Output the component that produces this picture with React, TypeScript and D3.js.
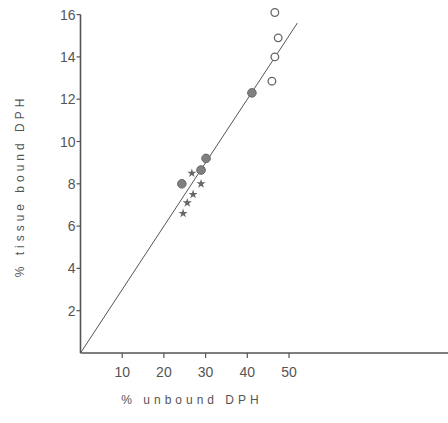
import React from "react";
import * as d3 from "d3";

const xTicks = [10, 20, 30, 40, 50];
const yTicks = [2, 4, 6, 8, 10, 12, 14, 16];

const openX = [46.6, 47.4, 46.6, 45.9];
const openY = [16.1, 14.9, 14.0, 12.85];
const filledX = [41.1, 30.1, 28.9, 24.3];
const filledY = [12.3, 9.2, 8.65, 8.0];
const starX = [26.7, 28.9, 27.0, 25.6, 24.6];
const starY = [8.5, 8.0, 7.5, 7.1, 6.6];
const lineX = [0, 52];
const slope = 0.3;

const W = 448;
const H = 423;
const FONT = "'Liberation Sans', Arial, Helvetica, sans-serif";
const INK = "#555";

export default function App() {
  const x = d3.scaleLinear().domain([0, 88]).range([80.5, 447.5]);
  const y = d3.scaleLinear().domain([0, 16]).range([353, 14.6]);
  const line = d3
    .line<number>()
    .x((d) => x(d))
    .y((d) => y(d * slope));
  const star = d3.symbol().type(d3.symbolStar).size(26)();
  return (
    <svg
      width={W}
      height={H}
      style={{ position: "absolute", left: 0, top: 0, background: "#fff", fontFamily: FONT }}
    >
      <line x1={x(0)} x2={x(0)} y1={y(0)} y2={y(16)} stroke={INK} strokeWidth={1.6} />
      <line x1={x(0)} x2={W} y1={y(0)} y2={y(0)} stroke={INK} strokeWidth={1.6} />
      {yTicks.map((t) => (
        <g key={"y" + t}>
          <line x1={x(0) - 4} x2={x(0)} y1={y(t)} y2={y(t)} stroke={INK} strokeWidth={1.2} />
          <text x={x(0) - 5} y={y(t) + 5} textAnchor="end" fontSize={14} fill={INK}>
            {t}
          </text>
        </g>
      ))}
      {xTicks.map((t) => (
        <g key={"x" + t}>
          <line x1={x(t)} x2={x(t)} y1={y(0)} y2={y(0) + 5} stroke={INK} strokeWidth={1.2} />
          <text x={x(t)} y={y(0) + 24} textAnchor="middle" fontSize={14} fill={INK}>
            {t}
          </text>
        </g>
      ))}
      <path d={line(lineX) || ""} fill="none" stroke={INK} strokeWidth={1} />
      {openX.map((v, i) => (
        <circle key={"o" + i} cx={x(v)} cy={y(openY[i])} r={3.8} fill="#fff" stroke="#666" strokeWidth={1.3} />
      ))}
      {filledX.map((v, i) => (
        <circle key={"f" + i} cx={x(v)} cy={y(filledY[i])} r={4.3} fill="#808080" stroke="#666" strokeWidth={1} />
      ))}
      {starX.map((v, i) => (
        <path key={"s" + i} d={star || ""} transform={`translate(${x(v)},${y(starY[i])})`} fill="#666" />
      ))}
      <text x={192} y={404} textAnchor="middle" fontSize={12} style={{ letterSpacing: "4px" }} fill={INK}>
        % unbound DPH
      </text>
      <g transform="translate(24,186) rotate(-90)">
        <text x={0} y={0} textAnchor="middle" fontSize={12} style={{ letterSpacing: "4px" }} fill={INK}>
          % tissue bound DPH
        </text>
      </g>
    </svg>
  );
}
